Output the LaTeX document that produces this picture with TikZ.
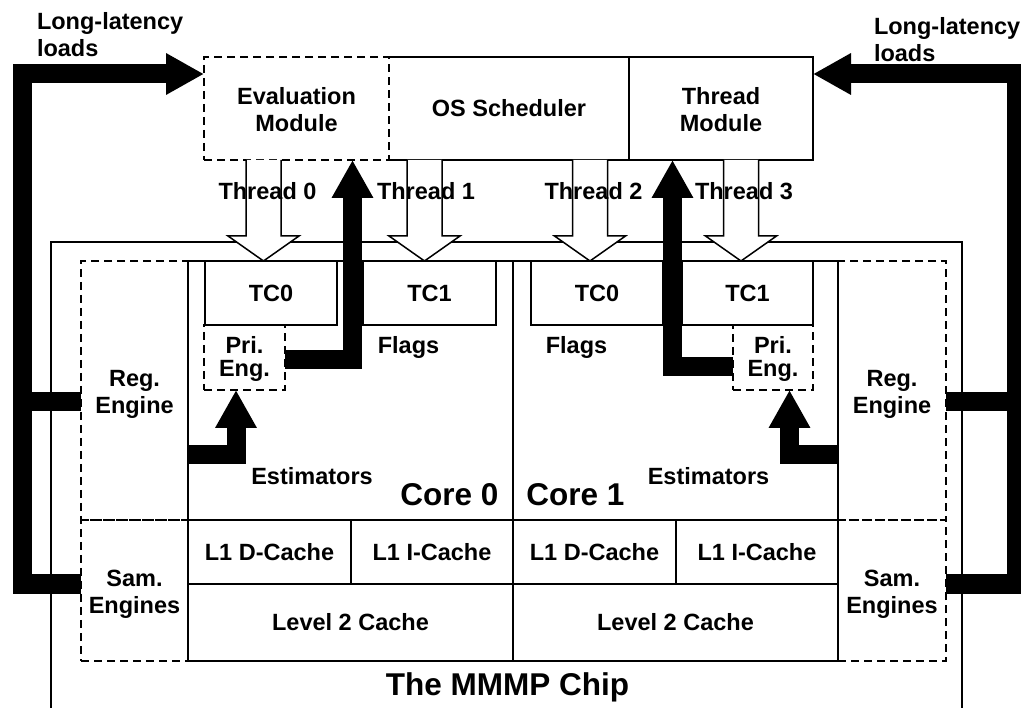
\documentclass[tikz,border=0pt]{standalone}
\usepackage{fontspec}
\setmainfont{Liberation Sans}
\usetikzlibrary{arrows.meta}
\newcommand\smtxt{\fontsize{23.5}{27}\selectfont\bfseries}
\newcommand\lgtxt{\fontsize{31.5}{36}\selectfont\bfseries}
\begin{document}
\begin{tikzpicture}[x=1pt,y=-1pt,line width=1.5pt,
  box/.style={draw, rectangle, inner sep=0pt, outer sep=0pt, align=center, font=\smtxt},
  dbox/.style={box, dash pattern=on 8pt off 5pt},
  txt/.style={inner sep=0pt, outer sep=0pt, font=\smtxt},
  bigtxt/.style={inner sep=0pt, outer sep=0pt, font=\lgtxt},
  bigarrow/.style={line width=19pt, -{Triangle[length=38pt,width=39pt]}},
  bus/.style={line width=19pt},
  hollow/.style={fill=white, line width=1.5pt}]
\useasboundingbox (0,0) rectangle (1021,708);
\clip (0,0) rectangle (1021,708);

% chip frame
\draw (51,712) |- (962,242) -- (962,712);

% top modules
\node[dbox, minimum width=185pt, minimum height=103pt] (eval) at (296.5,108.5) {\rule{0pt}{20pt}Evaluation\\Module};
\node[box, draw=none, minimum width=240pt, minimum height=103pt] (os) at (509,108.5) {OS Scheduler};
\node[box, minimum width=184pt, minimum height=103pt] (thm) at (721,108.5) {\rule{0pt}{20pt}Thread\\Module};
\draw (os.north west) -- (os.north east) (os.south west) -- (os.south east);

% side engines (dashed)
\node[dbox, minimum width=107pt, minimum height=259pt] (reg0) at (134.5,390.5) {\rule{0pt}{24pt}Reg.\\Engine};
\node[dbox, minimum width=107pt, minimum height=141pt] (sam0) at (134.5,590.5) {\rule{0pt}{23pt}Sam.\\Engines};
\node[dbox, minimum width=108pt, minimum height=259pt] (reg1) at (892,390.5) {\rule{0pt}{24pt}Reg.\\Engine};
\node[dbox, minimum width=108pt, minimum height=141pt] (sam1) at (892,590.5) {\rule{0pt}{23pt}Sam.\\Engines};

% cores
\node[box, minimum width=325pt, minimum height=400pt] (core0) at (350.5,461) {};
\node[box, minimum width=325pt, minimum height=400pt] (core1) at (675.5,461) {};

% caches
\node[box, minimum width=163pt, minimum height=64pt] (l1d0) at (269.5,552) {L1 D-Cache};
\node[box, minimum width=162pt, minimum height=64pt] (l1i0) at (432,552) {L1 I-Cache};
\node[box, minimum width=325pt, minimum height=77pt] (l20) at (350.5,622.5) {Level 2 Cache};
\node[box, minimum width=163pt, minimum height=64pt] (l1d1) at (594.5,552) {L1 D-Cache};
\node[box, minimum width=162pt, minimum height=64pt] (l1i1) at (757,552) {L1 I-Cache};
\node[box, minimum width=325pt, minimum height=77pt] (l21) at (675.5,622.5) {Level 2 Cache};

% thread contexts
\node[box, minimum width=132pt, minimum height=64pt] (tc00) at (271,293) {TC0};
\node[box, minimum width=133pt, minimum height=64pt] (tc01) at (429.5,293) {TC1};
\node[box, minimum width=132pt, minimum height=64pt] (tc10) at (597,293) {TC0};
\node[box, minimum width=131pt, minimum height=64pt] (tc11) at (747.5,293) {TC1};

% priority engines
\node[dbox, minimum width=81pt, minimum height=65pt] (pe0) at (244.5,357.5) {\rule{0pt}{20pt}Pri.\\[-4pt]Eng.};
\node[dbox, minimum width=80pt, minimum height=65pt] (pe1) at (773,357.5) {\rule{0pt}{20pt}Pri.\\[-4pt]Eng.};

% hollow thread arrows
\foreach \x in {263.5,424.5,590,741}
  \draw[hollow] (\x-17.5,160) -- (\x-17.5,236) -- (\x-35.5,236) -- (\x,261)
        -- (\x+35.5,236) -- (\x+17.5,236) -- (\x+17.5,160);

% labels
\node[txt, anchor=base] (t0) at (267.5,200) {Thread 0};
\node[txt, anchor=base] (t1) at (426,200) {Thread 1};
\node[txt, anchor=base] (t2) at (593.5,200) {Thread 2};
\node[txt, anchor=base] (t3) at (744,200) {Thread 3};
\node[txt, anchor=base] (fl0) at (408.5,354) {Flags};
\node[txt, anchor=base] (fl1) at (576.5,354) {Flags};
\node[txt, anchor=base] (es0) at (312,485) {Estimators};
\node[txt, anchor=base] (es1) at (708.5,485) {Estimators};
\node[bigtxt, anchor=base] (c0) at (449.5,506) {Core 0};
\node[bigtxt, anchor=base] (c1) at (575.5,506) {Core 1};
\node[bigtxt, anchor=base] (chip) at (507.5,695) {The MMMP Chip};
\node[txt, anchor=north west, align=left] (ll0) at (37,12) {Long-latency\\loads};
\node[txt, anchor=north west, align=left] (ll1) at (874,17) {Long-latency\\loads};

% black feedback arrows
\coordinate (lbus) at (22,74);
\coordinate (lb2) at (22,401.5);
\coordinate (rbus) at (1016,74);
\coordinate (rb2) at (1016,401.5);
\coordinate (up0) at (352.5,160);
\coordinate (up1) at (672.5,160);

\draw[bigarrow] ([yshift=6.5pt]sam0.west) -| (lbus) -- (eval.west |- lbus);
\draw[bus] ([yshift=-11pt]reg0.west) -- (lb2);
\draw[bigarrow] ([yshift=6.5pt]sam1.east) -| (rbus) -- (thm.east |- rbus);
\draw[bus] ([yshift=-11pt]reg1.east) -- (rb2);

\draw[bigarrow] ([yshift=-2.5pt]pe0.east) -| (up0);
\draw[bigarrow] ([yshift=-9.5pt]pe1.west) -| (up1);

\draw[bigarrow] ([yshift=6pt]core0.west) -| ([xshift=-8.5pt]pe0.south);
\draw[bigarrow] ([yshift=6pt]core1.east) -| ([xshift=16.5pt]pe1.south);
\end{tikzpicture}
\end{document}
